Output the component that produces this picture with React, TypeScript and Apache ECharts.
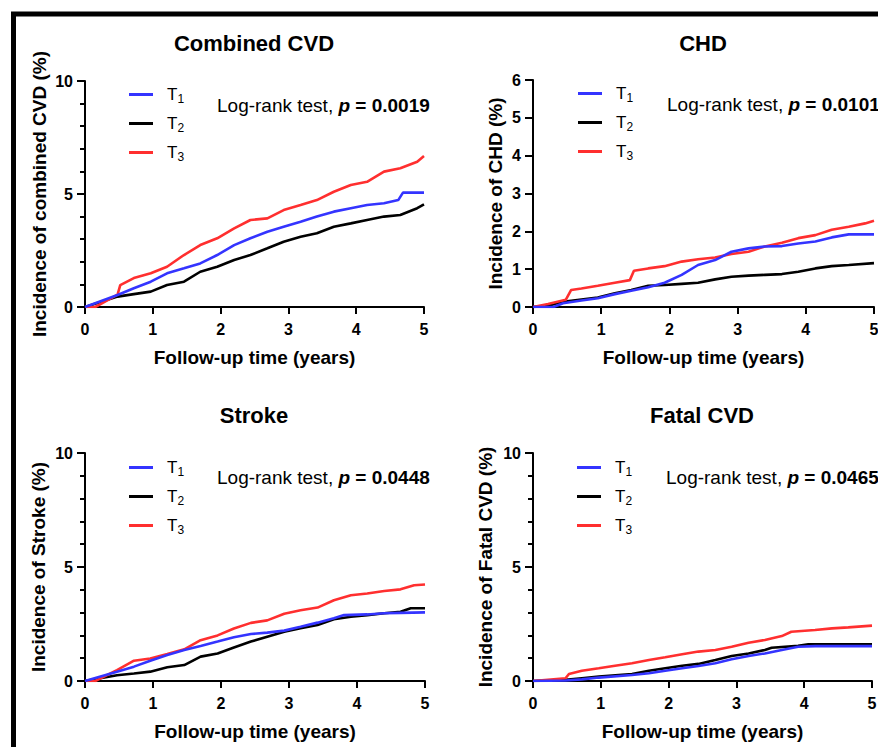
import React, { useEffect, useRef } from 'react';
import * as echarts from 'echarts';

// ---------- data ----------
const groupNames = ['T1', 'T2', 'T3'];
const groupColors = ['#3434ff', '#000000', '#ff2f2f'];

const panelTitles = ['Combined CVD', 'CHD', 'Stroke', 'Fatal CVD'];
const yAxisTitles = [
  'Incidence of combined CVD (%)',
  'Incidence of CHD (%)',
  'Incidence of Stroke (%)',
  'Incidence of Fatal CVD (%)',
];
const xAxisTitle = 'Follow-up time (years)';
const xRange = [0, 5];
const yMaxes = [10, 6, 10, 10];
const yIntervals = [5, 1, 5, 5];
const pValues = ['0.0019', '0.0101', '0.0448', '0.0465'];

// Combined CVD  [years, %]
const cvdT1 = [[0,0],[0.48,0.53],[0.72,0.83],[0.97,1.12],[1.21,1.49],[1.46,1.71],[1.7,1.93],[1.95,2.3],[2.2,2.74],[2.44,3.04],[2.69,3.33],[2.93,3.55],[3.18,3.77],[3.42,4.0],[3.67,4.22],[3.92,4.37],[4.16,4.51],[4.41,4.59],[4.62,4.73],[4.69,5.06],[5.0,5.06]];
const cvdT2 = [[0,0],[0.48,0.46],[0.72,0.57],[0.97,0.68],[1.21,0.97],[1.46,1.12],[1.7,1.56],[1.95,1.78],[2.2,2.08],[2.44,2.3],[2.69,2.6],[2.93,2.89],[3.18,3.11],[3.42,3.26],[3.67,3.55],[3.92,3.7],[4.16,3.85],[4.41,4.0],[4.65,4.07],[4.9,4.37],[5.0,4.54]];
const cvdT3 = [[0,0],[0.15,0],[0.48,0.55],[0.52,0.97],[0.72,1.28],[0.97,1.49],[1.21,1.78],[1.46,2.3],[1.7,2.74],[1.95,3.04],[2.2,3.48],[2.44,3.85],[2.69,3.92],[2.93,4.29],[3.18,4.51],[3.42,4.73],[3.67,5.1],[3.92,5.4],[4.16,5.54],[4.41,5.99],[4.65,6.14],[4.9,6.43],[5.0,6.68]];

// CHD
const chdT1 = [[0,0],[0.3,0],[0.44,0.1],[0.71,0.17],[0.95,0.23],[1.2,0.34],[1.44,0.43],[1.69,0.52],[1.93,0.64],[2.18,0.85],[2.42,1.11],[2.67,1.24],[2.91,1.46],[3.16,1.55],[3.4,1.6],[3.65,1.61],[3.89,1.68],[4.14,1.73],[4.38,1.84],[4.63,1.92],[5.0,1.92]];
const chdT2 = [[0,0],[0.22,0.03],[0.44,0.14],[0.71,0.2],[0.95,0.25],[1.2,0.36],[1.44,0.45],[1.69,0.56],[1.93,0.58],[2.18,0.61],[2.42,0.64],[2.67,0.73],[2.91,0.8],[3.16,0.83],[3.4,0.85],[3.65,0.87],[3.89,0.93],[4.14,1.02],[4.38,1.08],[4.63,1.11],[5.0,1.16]];
const chdT3 = [[0,0],[0.22,0.08],[0.48,0.19],[0.56,0.45],[0.71,0.49],[0.95,0.56],[1.2,0.64],[1.42,0.71],[1.48,0.96],[1.69,1.02],[1.93,1.08],[2.18,1.2],[2.42,1.26],[2.67,1.31],[2.91,1.4],[3.16,1.46],[3.4,1.6],[3.65,1.7],[3.89,1.82],[4.14,1.9],[4.38,2.04],[4.63,2.12],[4.87,2.21],[5.0,2.28]];

// Stroke
const strokeT1 = [[0,0],[0.47,0.41],[0.72,0.63],[0.96,0.89],[1.21,1.14],[1.46,1.36],[1.7,1.54],[1.95,1.73],[2.19,1.92],[2.44,2.06],[2.68,2.12],[2.93,2.21],[3.17,2.38],[3.42,2.56],[3.66,2.75],[3.81,2.89],[4.15,2.92],[4.4,2.97],[4.64,2.99],[5.0,3.01]];
const strokeT2 = [[0,0],[0.47,0.25],[0.72,0.33],[0.96,0.41],[1.21,0.6],[1.46,0.7],[1.7,1.07],[1.95,1.21],[2.19,1.47],[2.44,1.73],[2.68,1.94],[2.93,2.16],[3.17,2.31],[3.42,2.46],[3.66,2.71],[3.91,2.82],[4.15,2.89],[4.4,2.97],[4.64,3.04],[4.79,3.19],[5.0,3.19]];
const strokeT3 = [[0,0],[0.15,0],[0.47,0.48],[0.72,0.89],[0.96,0.99],[1.21,1.18],[1.46,1.39],[1.7,1.79],[1.95,2.0],[2.19,2.3],[2.44,2.55],[2.68,2.66],[2.93,2.95],[3.17,3.1],[3.42,3.22],[3.66,3.54],[3.91,3.76],[4.15,3.84],[4.4,3.95],[4.64,4.02],[4.84,4.2],[5.0,4.23]];

// Fatal CVD
const fatalT1 = [[0,0],[0.48,0.02],[0.72,0.07],[0.97,0.15],[1.46,0.26],[1.71,0.34],[1.95,0.45],[2.2,0.56],[2.44,0.66],[2.69,0.78],[2.93,0.95],[3.18,1.1],[3.42,1.21],[3.67,1.36],[3.91,1.5],[4.16,1.53],[5.0,1.53]];
const fatalT2 = [[0,0],[0.48,0.05],[0.72,0.12],[0.97,0.19],[1.46,0.31],[1.71,0.45],[1.95,0.56],[2.2,0.67],[2.44,0.75],[2.69,0.92],[2.93,1.1],[3.18,1.21],[3.42,1.36],[3.52,1.46],[3.91,1.54],[4.06,1.61],[5.0,1.61]];
const fatalT3 = [[0,0],[0.48,0.12],[0.53,0.31],[0.72,0.45],[0.97,0.56],[1.21,0.67],[1.46,0.78],[1.71,0.92],[1.95,1.04],[2.2,1.17],[2.44,1.29],[2.69,1.36],[2.93,1.5],[3.18,1.68],[3.42,1.8],[3.67,1.97],[3.81,2.16],[4.16,2.24],[4.41,2.31],[4.65,2.35],[5.0,2.43]];

const panelData = [
  [cvdT1, cvdT2, cvdT3],
  [chdT1, chdT2, chdT3],
  [strokeT1, strokeT2, strokeT3],
  [fatalT1, fatalT2, fatalT3],
];

// ---------- layout ----------
const FONT = "'Liberation Sans', Arial, Helvetica, sans-serif";
const grids = [
  { left: 85, top: 81, width: 339, height: 226 },
  { left: 533, top: 80, width: 341, height: 227 },
  { left: 85, top: 453, width: 340, height: 228 },
  { left: 533, top: 453, width: 339, height: 228 },
];
const yNameGaps = [36, 28, 37, 38];
const titlePos = [[254, 43], [703, 43], [254, 415], [702, 415]];
const legendPos = [[129, 86], [578, 85], [129, 459], [577, 459]];
const logRankPos = [[217, 105], [667, 104], [217, 477], [666, 477]];

function buildOption() {
  const xAxes: any[] = [];
  const yAxes: any[] = [];
  const series: any[] = [];
  const legends: any[] = [];
  const graphics: any[] = [];

  graphics.push({
    type: 'rect',
    silent: true,
    shape: { x: 13.5, y: 14, width: 1000, height: 1000 },
    style: { fill: 'none', stroke: '#000', lineWidth: 5 },
  });

  grids.forEach((g, i) => {
    xAxes.push({
      type: 'value',
      gridIndex: i,
      min: xRange[0],
      max: xRange[1],
      interval: 1,
      name: xAxisTitle,
      nameLocation: 'middle',
      nameGap: 41,
      nameMoveOverlap: false,
      nameTextStyle: { fontSize: 19, fontWeight: 'bold', color: '#000', fontFamily: FONT },
      axisLine: { show: true, onZero: false, lineStyle: { color: '#000', width: 2 } },
      axisTick: { show: true, inside: false, length: 7, lineStyle: { color: '#000', width: 2 } },
      axisLabel: { fontSize: 16, fontWeight: 'bold', color: '#000', margin: 14, fontFamily: FONT },
      splitLine: { show: false },
    });
    const minor = yIntervals[i] === 5;
    yAxes.push({
      type: 'value',
      gridIndex: i,
      min: 0,
      max: yMaxes[i],
      interval: yIntervals[i],
      name: yAxisTitles[i],
      nameLocation: 'middle',
      nameGap: yNameGaps[i],
      nameRotate: 90,
      nameMoveOverlap: false,
      nameTextStyle: { fontSize: 19, fontWeight: 'bold', color: '#000', fontFamily: FONT },
      axisLine: { show: true, onZero: false, lineStyle: { color: '#000', width: 2 } },
      axisTick: { show: true, inside: false, length: 8, lineStyle: { color: '#000', width: 2 } },
      minorTick: { show: minor, splitNumber: 5, length: 5, lineStyle: { color: '#000', width: 2 } },
      minorSplitLine: { show: false },
      axisLabel: { fontSize: 16, fontWeight: 'bold', color: '#000', margin: 12, fontFamily: FONT },
      splitLine: { show: false },
    });

    // draw T2, T3 first, T1 on top
    [1, 2, 0].forEach((k) => {
      series.push({
        type: 'line',
        name: groupNames[k],
        xAxisIndex: i,
        yAxisIndex: i,
        data: panelData[i][k],
        symbol: 'none',
        showSymbol: false,
        color: groupColors[k],
        lineStyle: { color: groupColors[k], width: 2.6 },
        z: 2 + (k === 0 ? 2 : k === 2 ? 1 : 0),
        silent: true,
      });
    });

    legends.push({
      data: groupNames,
      orient: 'vertical',
      left: legendPos[i][0],
      top: legendPos[i][1],
      padding: 0,
      itemGap: 10.5,
      itemWidth: 24,
      itemHeight: 3,
      icon: 'rect',
      selectedMode: false,
      formatter: (name: string) => `{t|${name.slice(0, 1)}}{s|${name.slice(1)}}`,
      textStyle: {
        color: '#000',
        fontFamily: FONT,
        rich: {
          t: { fontSize: 17, lineHeight: 20, padding: [0, 0, 0, 9], color: '#000', fontFamily: FONT },
          s: { fontSize: 12, lineHeight: 15, verticalAlign: 'bottom', color: '#000', fontFamily: FONT },
        },
      },
    });

    graphics.push({
      type: 'text',
      silent: true,
      x: titlePos[i][0],
      y: titlePos[i][1],
      style: {
        text: panelTitles[i],
        fontSize: 22,
        fontWeight: 'bold',
        fontFamily: FONT,
        fill: '#000',
        align: 'center',
        verticalAlign: 'middle',
      },
    });
    graphics.push({
      type: 'text',
      silent: true,
      x: logRankPos[i][0],
      y: logRankPos[i][1],
      style: {
        text: `{n|Log-rank test, }{p|p}{b| = ${pValues[i]}}`,
        align: 'left',
        verticalAlign: 'middle',
        rich: {
          n: { fontSize: 19, fontFamily: FONT, fill: '#000' },
          p: { fontSize: 19, fontFamily: FONT, fontWeight: 'bold', fontStyle: 'italic', fill: '#000' },
          b: { fontSize: 19, fontFamily: FONT, fontWeight: 'bold', fill: '#000' },
        },
      },
    });
  });

  return {
    animation: false,
    backgroundColor: '#fff',
    textStyle: { fontFamily: FONT },
    grid: grids.map((g) => ({ ...g, containLabel: false, outerBoundsMode: 'none' })),
    xAxis: xAxes,
    yAxis: yAxes,
    legend: legends,
    series,
    graphic: graphics,
  };
}

export default function App() {
  const ref = useRef<HTMLDivElement>(null);
  useEffect(() => {
    if (!ref.current) return;
    const chart = echarts.init(ref.current, undefined, { renderer: 'svg' });
    chart.setOption(buildOption() as any);
    return () => chart.dispose();
  }, []);
  return (
    <div
      ref={ref}
      style={{ position: 'fixed', left: 0, top: 0, width: 878, height: 747, background: '#fff' }}
    />
  );
}
